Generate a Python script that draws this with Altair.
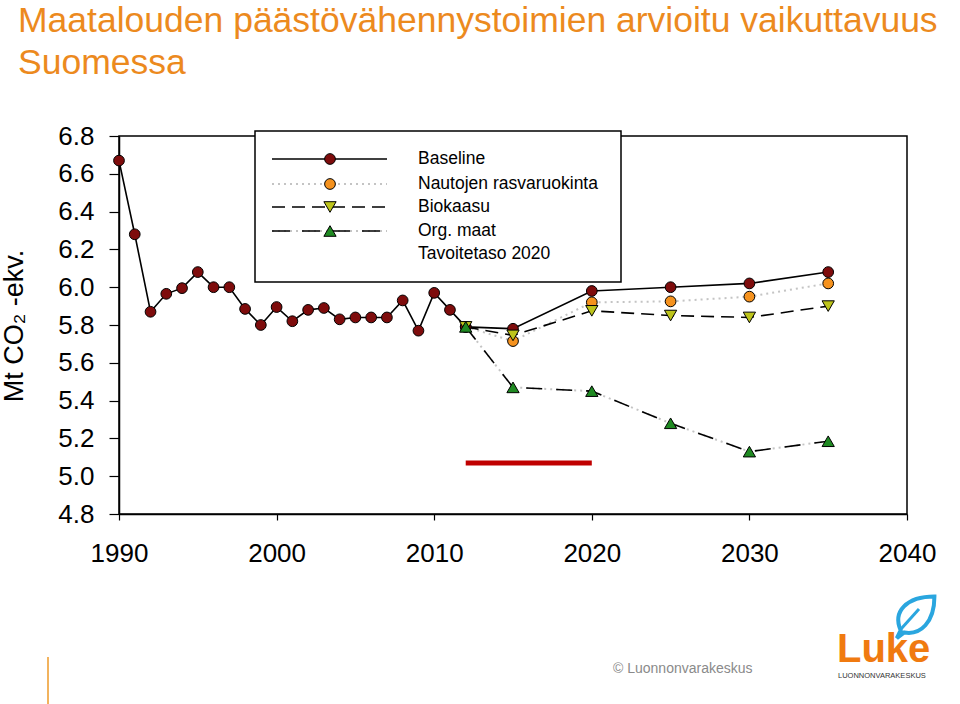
import altair as alt
import pandas as pd

# ---------------- data ----------------
hist_years = list(range(1990, 2013))
baseline_hist = [6.67, 6.28, 5.87, 5.965, 5.995, 6.08, 6.00, 6.00, 5.885, 5.80,
                 5.895, 5.82, 5.88, 5.89, 5.83, 5.84, 5.84, 5.84, 5.93, 5.77,
                 5.97, 5.88, 5.79]

proj_years = [2012, 2015, 2020, 2025, 2030, 2035]
baseline_proj = [5.79, 5.78, 5.98, 6.00, 6.02, 6.08]
nauta_proj = [5.79, 5.715, 5.92, 5.925, 5.95, 6.02]
bio_proj = [5.79, 5.745, 5.875, 5.85, 5.84, 5.90]
org_proj = [5.79, 5.47, 5.45, 5.28, 5.13, 5.185]

target_years = [2012, 2020]
target_value = 5.07

legend_labels = ["Baseline", "Nautojen rasvaruokinta", "Biokaasu", "Org. maat", "Tavoitetaso 2020"]

x_ticks = [1990, 2000, 2010, 2020, 2030, 2040]
y_ticks = [4.8, 5.0, 5.2, 5.4, 5.6, 5.8, 6.0, 6.2, 6.4, 6.6, 6.8]

title_lines = ["Maatalouden päästövähennystoimien arvioitu vaikuttavuus", "Suomessa"]
y_title = "Mt CO\u2082 -ekv."

FONT = "Liberation Sans, Arial, sans-serif"
ORANGE_TITLE = "#EC8A1E"
C_BASE = "#7E0C0C"
C_NAUTA = "#F5921E"
C_BIO = "#BDC41B"
C_ORG = "#1F8A22"
GRAY_DOT = "#C4C4C4"

# ---------------- tables ----------------
base_df = pd.DataFrame({"year": hist_years + proj_years[1:],
                        "value": baseline_hist + baseline_proj[1:]})
nauta_df = pd.DataFrame({"year": proj_years, "value": nauta_proj})
bio_df = pd.DataFrame({"year": proj_years, "value": bio_proj})
org_df = pd.DataFrame({"year": proj_years, "value": org_proj})
target_df = pd.DataFrame({"x1": [target_years[0]], "x2": [target_years[1]], "value": [target_value]})
one = pd.DataFrame({"a": [0]})

xs = alt.Scale(domain=[1990, 2040], nice=False, zero=False)
ys = alt.Scale(domain=[4.8, 6.8], nice=False, zero=False)

x_axis = alt.Axis(values=x_ticks, format="d", title=None, grid=False,
                  labelFontSize=26, labelFont=FONT, labelColor="black",
                  labelFlush=False, labelOverlap=False,
                  tickSize=6, tickColor="black", tickWidth=1.2,
                  domainColor="black", domainWidth=1.5, labelPadding=20)
y_axis = alt.Axis(values=y_ticks, format=".1f", title=None, grid=False,
                  labelFontSize=26, labelFont=FONT, labelColor="black",
                  labelFlush=False, labelOverlap=False,
                  tickSize=10, tickColor="black", tickWidth=1.2,
                  domainColor="black", domainWidth=1.5, labelPadding=15)


def X(field="year"):
    return alt.X(f"{field}:Q", scale=xs, axis=x_axis)


def Y(field="value"):
    return alt.Y(f"{field}:Q", scale=ys, axis=y_axis)


layers = []

# series lines
layers.append(alt.Chart(base_df).mark_line(color="black", strokeWidth=1.6).encode(x=X(), y=Y()))
layers.append(alt.Chart(nauta_df).mark_line(color=GRAY_DOT, strokeWidth=2, strokeDash=[2, 4]).encode(x=X(), y=Y()))
layers.append(alt.Chart(bio_df).mark_line(color="black", strokeWidth=1.6, strokeDash=[13, 7]).encode(x=X(), y=Y()))
layers.append(alt.Chart(org_df).mark_line(color=GRAY_DOT, strokeWidth=2, strokeDash=[2, 4]).encode(x=X(), y=Y()))
layers.append(alt.Chart(org_df).mark_line(color="black", strokeWidth=1.6, strokeDash=[16, 14]).encode(x=X(), y=Y()))

# target
layers.append(alt.Chart(target_df).mark_rule(color="#C00000", strokeWidth=5).encode(
    x=X("x1"), x2="x2:Q", y=Y()))

# markers
layers.append(alt.Chart(nauta_df).mark_point(shape="circle", filled=True, fill=C_NAUTA, stroke="black",
                                             strokeWidth=1, size=115, opacity=1).encode(x=X(), y=Y()))
layers.append(alt.Chart(base_df).mark_point(shape="circle", filled=True, fill=C_BASE, stroke="black",
                                            strokeWidth=1, size=115, opacity=1).encode(x=X(), y=Y()))
layers.append(alt.Chart(bio_df).mark_point(shape="triangle-down", filled=True, fill=C_BIO, stroke="black",
                                           strokeWidth=1, size=150, opacity=1).encode(x=X(), y=Y()))
layers.append(alt.Chart(org_df).mark_point(shape="triangle-up", filled=True, fill=C_ORG, stroke="black",
                                           strokeWidth=1, size=150, opacity=1).encode(x=X(), y=Y()))

# ---------------- legend (drawn box) ----------------
layers.append(alt.Chart(one).mark_rect(fill="white", stroke="black", strokeWidth=1.5).encode(
    x=alt.value(136), x2=alt.value(502), y=alt.value(-5), y2=alt.value(146)))
row_y = [23, 48, 71, 95, 118]
lx1, lx2, lm, lt = 153, 268, 211, 299
# Baseline
layers.append(alt.Chart(one).mark_rule(color="black", strokeWidth=1.6).encode(
    x=alt.value(lx1), x2=alt.value(lx2), y=alt.value(row_y[0])))
# Nautojen
layers.append(alt.Chart(one).mark_rule(color=GRAY_DOT, strokeWidth=2, strokeDash=[2, 4]).encode(
    x=alt.value(lx1), x2=alt.value(lx2), y=alt.value(row_y[1])))
# Biokaasu
layers.append(alt.Chart(one).mark_rule(color="black", strokeWidth=1.6, strokeDash=[13, 7]).encode(
    x=alt.value(lx1), x2=alt.value(lx2), y=alt.value(row_y[2])))
# Org. maat
layers.append(alt.Chart(one).mark_rule(color=GRAY_DOT, strokeWidth=2, strokeDash=[2, 4]).encode(
    x=alt.value(lx1), x2=alt.value(lx2), y=alt.value(row_y[3])))
layers.append(alt.Chart(one).mark_rule(color="black", strokeWidth=1.6, strokeDash=[18, 12]).encode(
    x=alt.value(lx1), x2=alt.value(lx2), y=alt.value(row_y[3])))
# legend symbols
for shape, fill, size, ry in [("circle", C_BASE, 115, row_y[0]), ("circle", C_NAUTA, 115, row_y[1]),
                              ("triangle-down", C_BIO, 150, row_y[2]), ("triangle-up", C_ORG, 150, row_y[3])]:
    layers.append(alt.Chart(one).mark_point(shape=shape, filled=True, fill=fill, stroke="black",
                                            strokeWidth=1, size=size, opacity=1).encode(
        x=alt.value(lm), y=alt.value(ry)))
for lab, ry in zip(legend_labels, row_y):
    layers.append(alt.Chart(one).mark_text(text=lab, align="left", baseline="middle", font=FONT,
                                           fontSize=17.5, color="black").encode(
        x=alt.value(lt), y=alt.value(ry)))

# ---------------- titles & decorations ----------------
layers.append(alt.Chart(one).mark_text(text=title_lines[0], align="left", baseline="alphabetic", font=FONT,
                                       fontSize=35.5, color=ORANGE_TITLE).encode(
    x=alt.value(-101), y=alt.value(-104)))
layers.append(alt.Chart(one).mark_text(text=title_lines[1], align="left", baseline="alphabetic", font=FONT,
                                       fontSize=35.5, color=ORANGE_TITLE).encode(
    x=alt.value(-101), y=alt.value(-62)))
layers.append(alt.Chart(one).mark_text(text=y_title, align="center", baseline="middle", font=FONT,
                                       fontSize=27, angle=270, color="black").encode(
    x=alt.value(-104), y=alt.value(190)))
# copyright
layers.append(alt.Chart(one).mark_text(text="\u00a9 Luonnonvarakeskus", align="left", baseline="middle",
                                       font=FONT, fontSize=14, color="#8a8a8a").encode(
    x=alt.value(494), y=alt.value(533)))
# bottom-left thin orange line
layers.append(alt.Chart(one).mark_rule(color="#F2B35E", strokeWidth=2).encode(
    x=alt.value(-71), y=alt.value(521), y2=alt.value(568)))
# Luke logo
leaf = "M-0.62,0.62 C-1.0,-0.25 -0.35,-0.95 0.95,-0.95 C0.95,0.25 0.3,0.85 -0.45,0.72 L-0.8,0.98 Z"
layers.append(alt.Chart(one).mark_point(shape=leaf, filled=False, stroke="#2AA6DF", strokeWidth=4,
                                        size=1850, opacity=1).encode(x=alt.value(795), y=alt.value(481)))
layers.append(alt.Chart(one).mark_rule(color="#2AA6DF", strokeWidth=3).encode(
    x=alt.value(782), x2=alt.value(800), y=alt.value(493), y2=alt.value(473)))
layers.append(alt.Chart(one).mark_text(text="Luke", align="left", baseline="alphabetic",
                                       font=FONT, fontWeight="bold", fontSize=40, color="#F07A10").encode(
    x=alt.value(718), y=alt.value(526)))
layers.append(alt.Chart(one).mark_text(text="LUONNONVARAKESKUS", align="left", baseline="top",
                                       font=FONT, fontSize=7.5, color="#333333").encode(
    x=alt.value(719), y=alt.value(536)))

chart = alt.layer(*layers).properties(
    width=788, height=378,
    autosize="none",
    padding={"left": 119, "top": 136, "right": 53, "bottom": 190},
    background="white",
).configure_view(stroke="black", strokeWidth=1.5)

chart.save("out.html", embed_options={"renderer": "svg", "actions": False})
